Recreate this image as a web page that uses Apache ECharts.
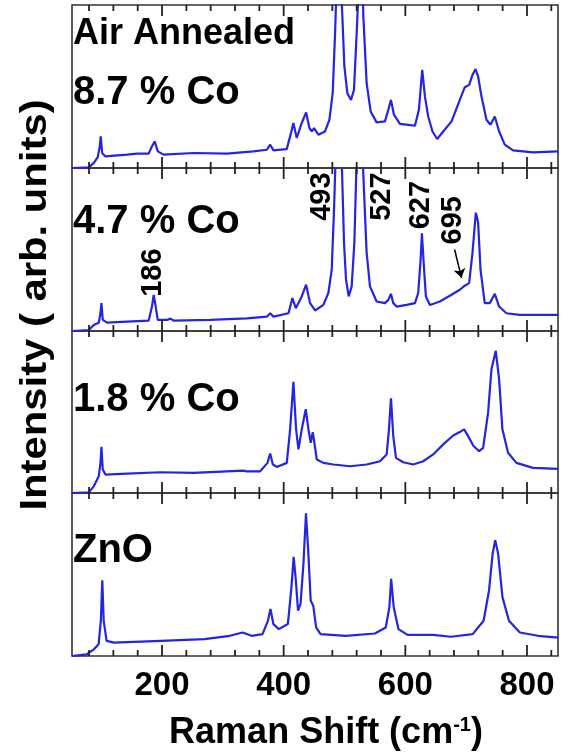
<!DOCTYPE html>
<html><head><meta charset="utf-8">
<script src="https://cdn.jsdelivr.net/npm/echarts@6/dist/echarts.min.js"></script>
<style>html,body{margin:0;padding:0;background:#fff}#c{width:571px;height:754px}</style>
</head><body><div id="c"></div>
<script>
// ---- data (Raman shift in cm^-1, intensity in panel-relative units 0..100) ----
const shift87 = [52.3,79.6,87.8,94.4,97.7,99.3,101.5,107,142.5,159,178,183.5,188,193,202.7,252,306.6,350.4,372.3,377.8,383.2,405,412,416,421.5,429.7,436.9,442.3,446.2,450,457.1,468,475.2,480.6,484.5,487.2,491,495.4,499.8,504.7,510.7,515.6,520,523.8,527,531,536.4,543,552.8,566.5,572,576.4,581.3,591.2,604.8,615.8,622.3,627.8,632.2,637.6,644.7,652.4,662.3,676,689.6,697.8,705,710.4,715.3,719.7,725.2,733.4,740,747.1,754.2,763.5,777.2,810,851];
const int87   = [0,0.4,3.1,6.7,13.3,19.4,9.2,7.1,8.2,8.8,8.8,13.3,16.3,10.2,8.2,9.2,8.8,10.2,11.2,14.3,10.8,11.6,21.4,27.6,18.4,27.6,34.1,24.5,22.4,24.5,20.4,22.4,29.6,45.9,82.7,115,150,103,62.2,45.9,41.8,48,82.7,115,150,92.9,52,34.7,28,28.6,35.7,41.8,32.7,27.1,26.5,25.9,35.7,60.2,43.9,31.6,22.4,17.8,22.4,28.6,41.8,49.6,51,57.1,60.6,56.1,43.9,29.6,26.5,31.6,22.4,14.3,10.8,9.6,10.2];

const shift47 = [52.3,79.6,87.8,96,98.8,100.4,102.6,109.7,142.5,178.1,183.5,186.3,189.6,192.9,208.2,213.6,219.1,279.3,339.5,372.3,377.8,383.2,407.9,414.4,419.9,429.7,436.9,443.4,451.6,465.3,473.5,479,482.8,486.1,490,495.4,499.2,502.5,506.9,511.8,516.2,520,525.5,531,536.4,541.9,552.8,566.5,572,576.4,580.2,585.7,602.1,615.8,621.2,625.1,627.3,630.5,633.8,640.4,656.8,673.2,689.6,697.8,704.9,710.4,715.9,719.7,723.6,730.6,738.9,747.1,754.2,766.2,788.1,851];
const int47   = [0,0.6,3.7,5.1,10.9,17.1,6.8,5.1,5.8,6.4,15,22.2,15,6.8,6.8,7.6,6.4,6.8,7.8,8.8,10.9,8.8,10.9,20.2,14,21.2,28.4,17.1,12.6,16,23.3,37.7,74.7,115,150,105.6,54.1,31.5,21.2,27.4,54.1,105.6,150,95.3,48,27.4,18.1,17.1,19.1,22.8,17.1,15,16,17.1,23.3,43.8,59.9,39.7,21.2,16,18.1,21.6,25.3,27.8,29.4,47.9,72.6,66.5,37.7,17.1,17.1,22.8,15,10.9,9.9,9.9];

const shift18 = [52.3,79.6,87.8,96,98.8,100.4,102.6,107,142.5,197.2,252,306.6,332.9,339.5,361.4,373.4,377.8,382.2,388.7,405.1,410.6,416,420.4,424.3,429.7,436.3,440.7,444.5,447.8,450.5,454.4,465.3,481.7,509.1,536.4,558.3,569.3,573.1,576.4,580.2,584.6,596.6,613,629.4,645.8,662.3,678.7,689.6,696.7,703.3,711.5,721.3,727.9,736.1,741.6,748.7,754.2,759.6,768.9,782.6,810,851];
const int18   = [0,0.4,4.1,10.3,18.6,28.5,14.5,11.4,12,12.8,12.4,13.4,13.8,13.4,13.4,18.6,24.4,17.6,16.1,18.6,39.3,68.6,39.3,26.9,39.3,51.7,39.3,31,37.6,31,20.7,18.6,17.6,16.5,17.6,19.6,23.8,39.3,58.5,35.1,21.7,19,17.6,19.6,23.8,30,35.5,37.6,39.3,35.1,29.3,25.8,27.9,49.6,76.4,87.8,70.2,39.3,24.8,18.6,15.5,14.9];

const shiftZnO = [52.3,76,88,95.8,99.4,101.8,104.1,108.9,120.8,198.3,269.8,311.5,332.4,347.3,365.2,374.1,378.3,383,392,406.9,412.8,416.4,420,423.6,427.7,432.5,436.7,440.9,444.4,448.6,453.4,460.6,502.2,550,567.8,573.8,576.7,580.9,588.7,603.6,645.3,675.1,710.8,728.7,737.6,743.6,747.8,752.5,759.7,770.4,788.3,818.1,851];
const intZnO   = [0,1,4.1,7.2,21.6,46.4,21.6,9.3,8.2,9.3,10.3,12.4,14.4,12.4,13.4,21.6,28.9,19.6,16.5,19.6,42.3,60.8,46.4,27.8,32,56.7,87.6,60.8,34,30.9,17.5,13.4,12.4,13.8,17.5,29.9,47.4,29.9,16.5,13,13,11.8,13.4,21.6,40.2,62.9,71.1,62.9,36.1,21.6,14.4,12.4,11.3];

const panelTexts = [['Air Annealed', '8.7 % Co'], ['4.7 % Co'], ['1.8 % Co'], ['ZnO']];
const tickLabels = [200, 400, 600, 800];
const minorTicks = [80,120,160,240,280,320,360,440,480,520,560,640,680,720,760,840];
const peakNames  = ['186', '493', '527', '627', '695'];
const peakLabelX = [185.7, 462.6, 562.4, 625.6, 678.1];
const peakLabelY = [21, 67.6, 67.6, 62.4, 53.1];
const arrowFrom  = [681, 50];
const arrowTo    = [692.4, 32.6];
const xTitle = 'Raman Shift (cm{s|-1})';
const yTitle = 'Intensity ( arb. units)';

// ---- chart ----
const FONT = '"Liberation Sans", Arial, sans-serif';
const BLUE = '#2424e2';
const spectra = [[shift87,int87],[shift47,int47],[shift18,int18],[shiftZnO,intZnO]];
const gridBoxes = [{top:5,height:163},{top:168,height:163},{top:331,height:162},{top:493,height:163}];
const XMIN = 52, XMAX = 851;
const MAJOR_PX = 11, MINOR_PX = 6;

const xAxes = [], yAxes = [], series = [];
gridBoxes.forEach((g, gi) => {
  xAxes.push({
    type: 'value', gridIndex: gi, position: 'bottom', min: XMIN, max: XMAX,
    axisLine: { show: false, onZero: false }, splitLine: { show: false },
    axisTick: { show: false },
    axisLabel: gi === 3 ? { show: true, customValues: tickLabels, margin: 13, fontSize: 33,
                            fontWeight: 'bold', color: '#000', fontFamily: FONT } : { show: false }
  });
  yAxes.push({ type: 'value', gridIndex: gi, min: 0, max: 100, show: false });
  const [xs, ys] = spectra[gi];
  series.push({
    type: 'line', xAxisIndex: gi, yAxisIndex: gi, showSymbol: false, symbol: 'none',
    clip: true, data: xs.map((x, i) => [x, ys[i]]),
    lineStyle: { color: BLUE, width: 2.2 }, z: 3
  });
  // tick marks on bottom and top edges, as short line segments in data coordinates
  const tickPts = [];
  tickLabels.concat(minorTicks).sort((a, b) => a - b).forEach(v => {
    const L = (tickLabels.indexOf(v) >= 0 ? MAJOR_PX : MINOR_PX) / g.height * 100;
    tickPts.push([v, 0], [v, L], [v, '-'], [v, 100], [v, 100 - L], [v, '-']);
  });
  series.push({
    type: 'line', xAxisIndex: gi, yAxisIndex: gi, showSymbol: false, symbol: 'none', silent: true,
    connectNulls: false, clip: false, data: tickPts, z: 6,
    lineStyle: { color: '#222', width: 1.8 }
  });
  if (gi === 1) {
    series.push({
      type: 'line', xAxisIndex: gi, yAxisIndex: gi, data: [], silent: true, z: 5,
      markLine: {
        silent: true, symbol: ['none', 'arrow'], symbolSize: 9, animation: false,
        label: { show: false },
        lineStyle: { color: '#000', width: 1.5, type: 'solid' },
        data: [[{ coord: arrowFrom }, { coord: arrowTo }]]
      }
    });
  }
});

const chart = echarts.init(document.getElementById('c'), null, { renderer: 'canvas' });
chart.setOption({
  animation: false,
  backgroundColor: '#fff',
  grid: gridBoxes.map(g => ({ left: 72, right: 13, top: g.top, height: g.height, show: true,
                              borderColor: '#333', borderWidth: 1.6, backgroundColor: 'transparent' })),
  xAxis: xAxes, yAxis: yAxes, series: series
});

const graphics = [];
const labelFont = [['bold 36px ', 'bold 40px '], ['bold 40px '], ['bold 40px '], ['bold 40px ']];
const labelY = [[34, 93], [222], [400], [551]];
panelTexts.forEach((arr, gi) => arr.forEach((t, k) => {
  graphics.push({ type: 'text', x: 73, y: labelY[gi][k],
    style: { text: t, font: labelFont[gi][k] + FONT, fill: '#000', textAlign: 'left', textVerticalAlign: 'middle' } });
}));
peakNames.forEach((t, i) => {
  const p = chart.convertToPixel({ xAxisIndex: 1, yAxisIndex: 1 }, [peakLabelX[i], peakLabelY[i]]);
  graphics.push({ type: 'text', x: p[0], y: p[1], rotation: Math.PI / 2,
    style: { text: t, font: 'bold 29px ' + FONT, fill: '#000', textAlign: 'left', textVerticalAlign: 'middle' } });
});
graphics.push({ type: 'text', x: 326, y: 733,
  style: { text: xTitle, font: 'bold 36px ' + FONT, fill: '#000', textAlign: 'center', textVerticalAlign: 'middle',
           rich: { s: { fontSize: 20, fontWeight: 'bold', fontFamily: FONT, verticalAlign: 'top', padding: [0, 0, 15, 0] } } } });
graphics.push({ type: 'text', x: 36, y: 305, rotation: Math.PI / 2, scaleX: 1.13,
  style: { text: yTitle, font: 'bold 37px ' + FONT, fill: '#000', textAlign: 'center', textVerticalAlign: 'middle' } });
chart.setOption({ graphic: graphics });
</script></body></html>
